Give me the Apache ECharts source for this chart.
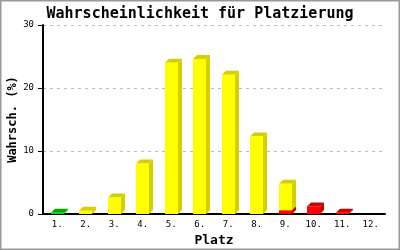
<!DOCTYPE html>
<html><head><meta charset="utf-8">
<script src="https://cdn.jsdelivr.net/npm/echarts@6/dist/echarts.min.js"></script>
<style>html,body{margin:0;padding:0;background:#fff}#c{width:400px;height:250px}</style>
</head><body><div id="c"></div>
<script>
const categories = ['1.','2.','3.','4.','5.','6.','7.','8.','9.','10.','11.','12.'];
const greenVals  = [0.2,0,0,0,0,0,0,0,0,0,0,0];
const redVals    = [0,0,0,0,0,0,0,0,0.6,1.2,0.2,0];
const yellowVals = [0,0.5,2.6,8.0,24.0,24.6,22.1,12.3,4.2,0,0,0];
const yTicks = [0,10,20,30];

function buildStack(order){
  const base = categories.map(()=>0);
  return order.map(vals => vals.map((v,i)=>{ const b=base[i]; base[i]+=v; return [i,b,b+v]; }));
}
const [gData, rData, yData] = buildStack([greenVals, redVals, yellowVals]);

const D = 4, BW = 13;
function render(front, side){
  return function(params, api){
    const b = api.value(1), t = api.value(2);
    if (t - b <= 0) return null;
    const p0 = api.coord([api.value(0), b]);
    const p1 = api.coord([api.value(0), t]);
    const x0 = Math.round(p0[0] - BW/2), x1 = x0 + BW;
    const yB = p0[1], yT = p1[1];
    return {type:'group', children:[
      {type:'polygon', shape:{points:[[x1,yT],[x1+D,yT-D],[x1+D,yB-D],[x1,yB]]}, style:{fill:side}},
      {type:'polygon', shape:{points:[[x0,yT],[x1,yT],[x1+D,yT-D],[x0+D,yT-D]]}, style:{fill:side}},
      {type:'rect', shape:{x:x0, y:yT, width:BW, height:yB-yT}, style:{fill:front}}
    ]};
  };
}
const mono = '"DejaVu Sans Mono", monospace';
const chart = echarts.init(document.getElementById('c'), null, {renderer:'canvas'});
chart.setOption({
  animation:false,
  backgroundColor:'#fff',
  title:{text:'Wahrscheinlichkeit für Platzierung', left:'center', top:2,
    textStyle:{fontFamily:mono, fontWeight:'bold', fontSize:15, color:'#000'}},
  grid:{left:43, right:15, top:25, bottom:36, containLabel:false, outerBoundsMode:'none'},
  xAxis:{type:'category', data:categories, name:'Platz', nameLocation:'middle', nameGap:20, nameMoveOverlap:false,
    nameTextStyle:{fontFamily:mono, fontWeight:'bold', fontSize:13, color:'#000'},
    axisLine:{lineStyle:{color:'#000', width:2}}, axisTick:{show:false},
    axisLabel:{fontFamily:mono, fontSize:9, color:'#000', margin:6}},
  yAxis:{type:'value', min:0, max:30, interval:10, name:'Wahrsch. (%)', nameLocation:'middle', nameGap:24, nameMoveOverlap:false,
    nameTextStyle:{fontFamily:mono, fontWeight:'bold', fontSize:12, color:'#000'},
    axisLine:{show:true, lineStyle:{color:'#000', width:2}}, axisTick:{show:true, length:5, lineStyle:{color:'#000'}},
    axisLabel:{fontFamily:mono, fontSize:9, color:'#000', margin:9},
    splitLine:{show:true, lineStyle:{color:'#bbb', type:[3,4]}}},
  graphic:[{type:'rect', shape:{x:0.5,y:0.5,width:399,height:249}, style:{fill:null, stroke:'#999', lineWidth:2}, silent:true}],
  series:[
    {type:'custom', data:gData, renderItem:render('#00dd00','#00a800'), encode:{x:0,y:[1,2]}},
    {type:'custom', data:rData, renderItem:render('#ff0000','#cc0000'), encode:{x:0,y:[1,2]}},
    {type:'custom', data:yData, renderItem:render('#ffff00','#d4d000'), encode:{x:0,y:[1,2]}}
  ]
});
</script></body></html>
